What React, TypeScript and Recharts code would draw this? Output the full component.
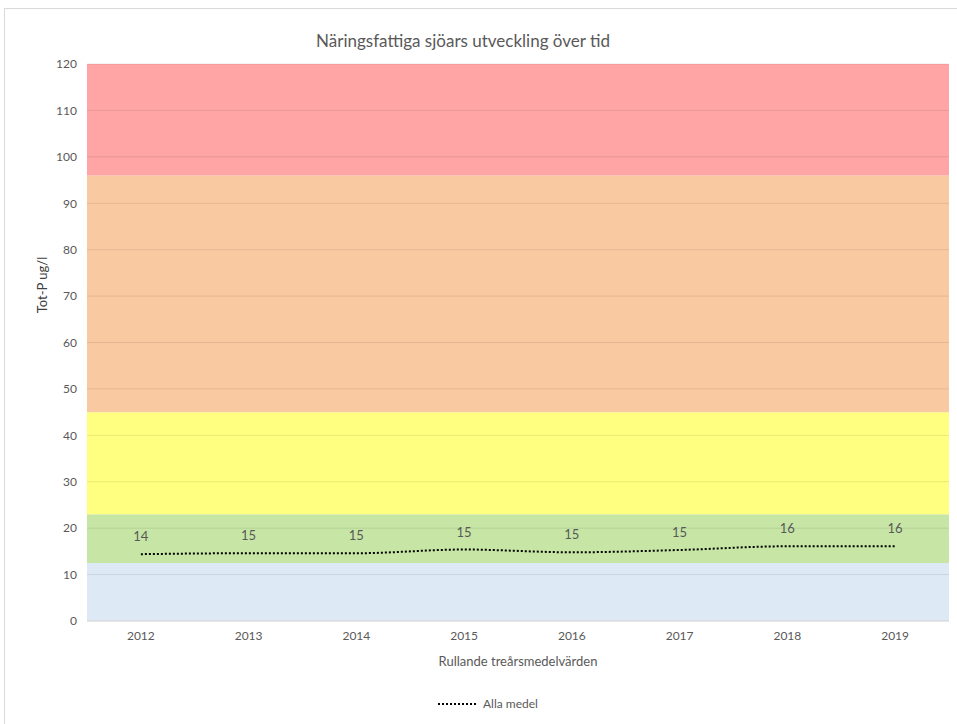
import React from "react";
import {
  LineChart,
  Line,
  XAxis,
  YAxis,
  ReferenceArea,
  ReferenceLine,
  LabelList,
} from "recharts";

const years = ["2012", "2013", "2014", "2015", "2016", "2017", "2018", "2019"];
const allaMedel = [14.4, 14.6, 14.6, 15.4, 14.8, 15.3, 16.1, 16.1];
const yTicks = [0, 10, 20, 30, 40, 50, 60, 70, 80, 90, 100, 110, 120];
const bandLows = [0, 12.5, 23, 45, 96];
const bandHighs = [12.5, 23, 45, 96, 120];
const bandColors = ["#DEE9F6", "#C7E6A5", "#FFFF80", "#F9C9A2", "#FFA5A5"];

const title = "Näringsfattiga sjöars utveckling över tid";
const yTitle = "Tot-P ug/l";
const xTitle = "Rullande treårsmedelvärden";
const seriesName = "Alla medel";

const data = years.map((y, i) => ({ year: y, value: allaMedel[i] }));

const FONT = "Lato, 'Open Sans', sans-serif";
const TEXT = "#595959";

export default function App() {
  return (
    <div style={{ position: "absolute", left: 0, top: 0, width: 957, height: 724, background: "#fff", overflow: "hidden" }}>
      <div
        style={{
          position: "absolute",
          left: 4,
          top: 8,
          width: 980,
          height: 760,
          border: "1px solid #D9D9D9",
          boxSizing: "border-box",
        }}
      />
      <div
        style={{
          position: "absolute",
          left: 0,
          top: 30,
          width: 926,
          textAlign: "center",
          fontFamily: FONT,
          fontSize: 17,
          color: TEXT,
        }}
      >
        {title}
      </div>
      <div
        style={{
          position: "absolute",
          left: 42,
          top: 285,
          transform: "translate(-50%, -50%) rotate(-90deg)",
          fontFamily: FONT,
          fontSize: 13,
          color: "#404040",
          whiteSpace: "nowrap",
        }}
      >
        {yTitle}
      </div>
      <div
        style={{
          position: "absolute",
          left: 87,
          width: 862,
          top: 653,
          textAlign: "center",
          fontFamily: FONT,
          fontSize: 13,
          color: TEXT,
        }}
      >
        {xTitle}
      </div>
      <div
        style={{
          position: "absolute",
          left: 437,
          top: 696,
          display: "flex",
          alignItems: "center",
          fontFamily: FONT,
          fontSize: 12,
          color: TEXT,
        }}
      >
        <svg width={40} height={10} style={{ marginRight: 6 }}>
          <line x1={1} y1={5} x2={39} y2={5} stroke="#000" strokeWidth={2} strokeDasharray="2 2" />
        </svg>
        <span>{seriesName}</span>
      </div>
      <div style={{ position: "absolute", left: 0, top: 0 }}>
        <LineChart
          width={957}
          height={724}
          data={data}
          margin={{ top: 64, right: 8, bottom: 73, left: 47 }}
        >
          {bandLows.map((lo, i) => (
            <ReferenceArea
              key={"b" + i}
              y1={lo}
              y2={bandHighs[i]}
              fill={bandColors[i]}
              fillOpacity={1}
              stroke="none"
            />
          ))}
          {yTicks.slice(1).map((t) => (
            <ReferenceLine key={"g" + t} y={t} stroke="rgba(0,0,0,0.09)" strokeWidth={1} />
          ))}
          <XAxis
            dataKey="year"
            scale="band"
            height={30}
            axisLine={false}
            tickLine={false}
            tickMargin={4}
            tick={{ fill: TEXT, fontSize: 12, fontFamily: FONT }}
          />
          <YAxis
            width={40}
            domain={[0, 120]}
            ticks={yTicks}
            interval={0}
            axisLine={false}
            tickLine={false}
            tickMargin={4}
            tick={{ fill: TEXT, fontSize: 12, fontFamily: FONT }}
          />
          <ReferenceLine y={0} stroke="#D0D0D0" strokeWidth={1} />
          <Line
            type="monotone"
            dataKey="value"
            name={seriesName}
            stroke="#000"
            strokeWidth={2}
            strokeDasharray="2 2"
            dot={false}
            activeDot={false}
            isAnimationActive={false}
          >
            <LabelList
              dataKey="value"
              position="top"
              offset={13}
              formatter={(v: number) => Math.round(v)}
              style={{ fill: TEXT, fontSize: 13, fontFamily: FONT }}
            />
          </Line>
        </LineChart>
      </div>
    </div>
  );
}
